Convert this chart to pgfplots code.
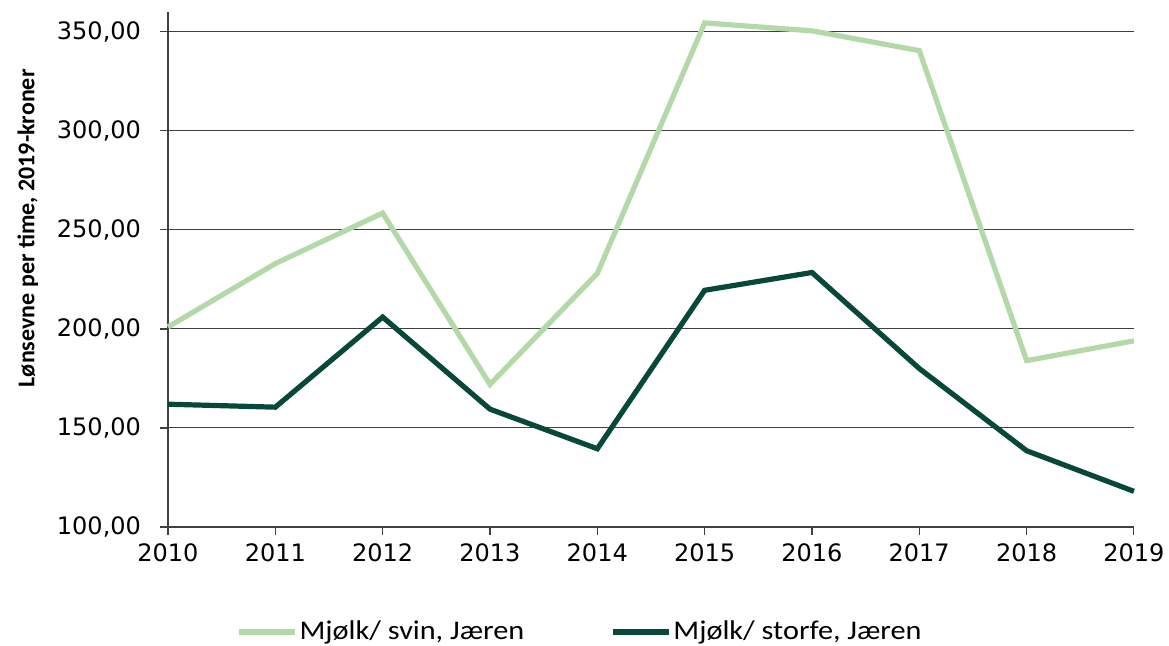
\documentclass[border=0pt]{standalone}
\usepackage{fontspec}
\usepackage{pgfplots}
\pgfplotsset{compat=1.18}
\setmainfont{DejaVu Sans}
\newfontfamily\calibri{Carlito}
\newfontfamily\calibriwide[FakeStretch=1.12]{Carlito}

\definecolor{svin}{RGB}{178,217,167}
\definecolor{storfe}{RGB}{8,72,56}

\begin{document}
\begin{tikzpicture}
\begin{axis}[
  scale only axis,
  width=483pt, height=257.5pt,
  xmin=2010, xmax=2019,
  ymin=100, ymax=360,
  xtick={2010,...,2019},
  ytick={100,150,...,350},
  axis x line*=bottom, axis y line*=left,
  axis line style={black!75, line width=0.6pt},
  ymajorgrids,
  grid style={black!75, line width=0.5pt},
  tick align=outside,
  major tick length=4pt,
  tick style={black!75, line width=0.6pt},
  /pgf/number format/assume math mode=true,
  tick label style={font=\fontsize{12}{14}\selectfont, text=black},
  xticklabel style={/pgf/number format/1000 sep={}, yshift=-1pt},
  yticklabel style={/pgf/number format/.cd, fixed, fixed zerofill, precision=2, use comma, 1000 sep={}, /tikz/.cd, xshift=-6pt},
  ylabel={Lønsevne per time, 2019-kroner},
  ylabel style={font=\calibri\bfseries\fontsize{12}{14}\selectfont, at={(axis description cs:-0.145,0.58)}, anchor=center, rotate=0},
  legend columns=2,
  legend style={draw=none, fill=none, at={(206pt,-52.5pt)}, anchor=center,
    font=\calibriwide\fontsize{13.5}{15}\selectfont,
    nodes={inner xsep=1pt},
    /tikz/every even column/.append style={column sep=42pt}},
  legend image code/.code={\draw[#1] (0pt,0pt) -- (28pt,0pt);},
  clip=false,
]
\addplot[svin, line width=2.6pt] coordinates {
  (2010,201) (2011,233) (2012,258.5) (2013,172) (2014,228)
  (2015,354.5) (2016,350.5) (2017,340.5) (2018,184) (2019,194)};
\addplot[storfe, line width=2.6pt] coordinates {
  (2010,162) (2011,160.5) (2012,206) (2013,159.5) (2014,139.5)
  (2015,219.5) (2016,228.5) (2017,180) (2018,138.5) (2019,118)};
\legend{{Mjølk/ svin, Jæren},{Mjølk/ storfe, Jæren}}
\end{axis}
\pgfresetboundingbox
\path (-84pt,-59pt) rectangle (500.5pt,263.5pt);
\end{tikzpicture}
\end{document}
